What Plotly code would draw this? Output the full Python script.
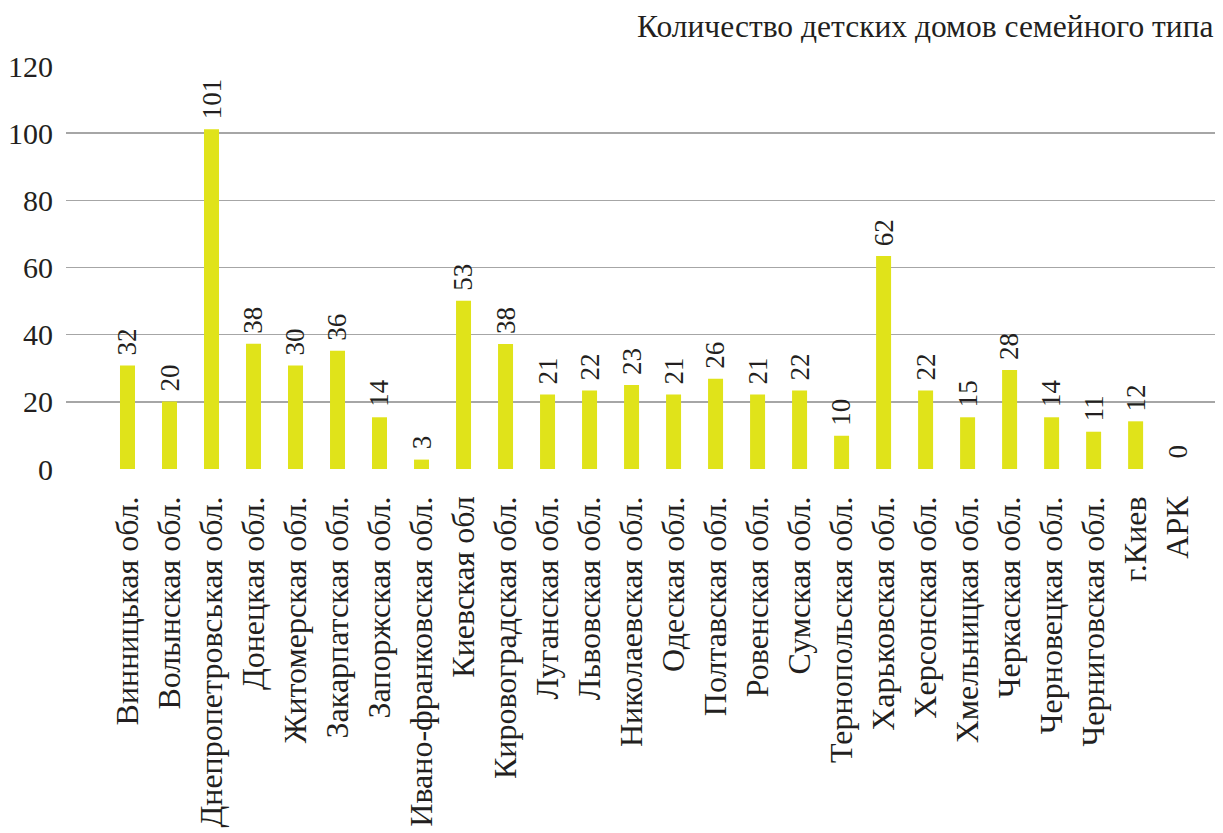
import plotly.graph_objects as go

categories = ["Винницькая обл.", "Волынская обл.", "Днепропетровськая обл.", "Донецкая обл.",
              "Житомерская обл.", "Закарпатская обл.", "Запоржская обл.", "Ивано-франковская обл.",
              "Киевская обл", "Кировоградская обл.", "Луганская обл.", "Львовская обл.",
              "Николаевская обл.", "Одеская обл.", "Полтавская обл.", "Ровенская обл.",
              "Сумская обл.", "Тернопольская обл.", "Харьковская обл.", "Херсонская обл.",
              "Хмельницкая обл.", "Черкаская обл.", "Черновецкая обл.", "Черниговская обл.",
              "г.Киев", "АРК"]
bar_values = [30.8, 20.1, 101.2, 37.3, 30.8, 35.2, 15.4, 2.8, 50.1, 37.2, 22.2, 23.4, 25.0,
              22.2, 26.9, 22.2, 23.4, 9.9, 63.4, 23.4, 15.4, 29.5, 15.4, 11.1, 14.2, 0]
value_labels = ["32", "20", "101", "38", "30", "36", "14", "3", "53", "38", "21", "22", "23",
                "21", "26", "21", "22", "10", "62", "22", "15", "28", "14", "11", "12", "0"]
y_ticks = [0, 20, 40, 60, 80, 100, 120]
title_text = "Количество детских домов семейного типа"

FONT = "Liberation Serif, Times New Roman, serif"
TXT = "#231f20"

fig = go.Figure()
fig.add_trace(go.Bar(
    x=list(range(len(categories))), y=bar_values,
    marker=dict(color="#e0e31a", line=dict(width=0)),
    width=15/42,
    hoverinfo="skip",
))

for i, (v, t) in enumerate(zip(bar_values, value_labels)):
    fig.add_annotation(x=i, y=v, text=t, textangle=-90, showarrow=False,
                       xanchor="center", yanchor="bottom", yshift=8,
                       font=dict(family=FONT, size=27, color=TXT))

fig.add_annotation(x=1, y=1, xref="paper", yref="paper", xanchor="right", yanchor="bottom",
                   yshift=20, text=title_text, showarrow=False, align="right",
                   font=dict(family=FONT, size=31.5, color=TXT))

fig.update_layout(
    width=1223, height=833,
    margin=dict(l=66, r=8, t=66, b=364),
    paper_bgcolor="white", plot_bgcolor="white",
    showlegend=False,
    font=dict(family=FONT, size=30, color=TXT),
    xaxis=dict(range=[-1.464, 25.89], tickmode="array",
               tickvals=list(range(len(categories))), ticktext=categories,
               tickangle=-90, showgrid=False, zeroline=False, showline=False,
               ticks="", ticklabelstandoff=20, automargin=False,
               tickfont=dict(family=FONT, size=32, color=TXT)),
    yaxis=dict(range=[0, 120], tickmode="array", tickvals=y_ticks,
               showgrid=True, gridcolor="#a6a6a6", gridwidth=1.5,
               zeroline=False, showline=False, ticks="", ticklabelstandoff=12,
               automargin=False,
               tickfont=dict(family=FONT, size=30, color=TXT)),
)

fig.write_html("out.html", config={"displayModeBar": False, "staticPlot": True},
               post_script="document.body.style.margin='0';")
